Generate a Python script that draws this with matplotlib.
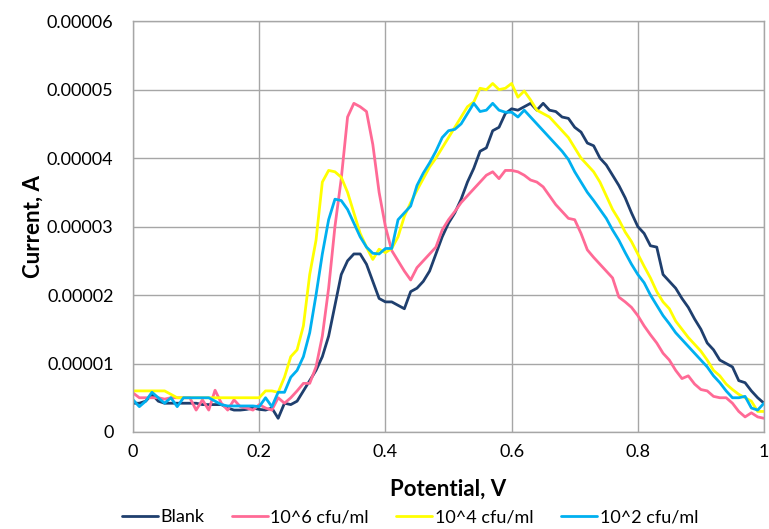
import matplotlib
matplotlib.use('Agg')
import matplotlib.pyplot as plt
import numpy as np

# Potential (V) and currents (units of 1e-5 A)
potential = [round(i * 0.01, 2) for i in range(101)]

blank = [0.42, 0.42, 0.45, 0.55, 0.45, 0.42, 0.42, 0.42, 0.42, 0.42,
         0.42, 0.40, 0.40, 0.40, 0.40, 0.35, 0.32, 0.32, 0.33, 0.35,
         0.33, 0.32, 0.35, 0.20, 0.42, 0.40, 0.45, 0.60, 0.75, 0.90,
         1.10, 1.40, 1.85, 2.30, 2.50, 2.60, 2.60, 2.45, 2.20, 1.95,
         1.90, 1.90, 1.85, 1.80, 2.05, 2.10, 2.20, 2.35, 2.60, 2.85,
         3.05, 3.20, 3.40, 3.65, 3.85, 4.10, 4.15, 4.40, 4.45, 4.65,
         4.72, 4.70, 4.75, 4.80, 4.70, 4.80, 4.70, 4.68, 4.60, 4.58,
         4.45, 4.38, 4.22, 4.18, 4.00, 3.90, 3.75, 3.60, 3.42, 3.20,
         3.00, 2.90, 2.72, 2.70, 2.30, 2.20, 2.10, 1.95, 1.82, 1.65,
         1.50, 1.30, 1.20, 1.05, 1.00, 0.95, 0.75, 0.72, 0.60, 0.50,
         0.42]

cfu_1e6 = [0.57, 0.50, 0.50, 0.50, 0.50, 0.48, 0.50, 0.50, 0.50, 0.50,
           0.32, 0.47, 0.32, 0.61, 0.42, 0.32, 0.47, 0.37, 0.35, 0.32,
           0.40, 0.35, 0.32, 0.50, 0.42, 0.50, 0.60, 0.71, 0.71, 0.95,
           1.40, 2.10, 3.00, 3.70, 4.60, 4.80, 4.75, 4.68, 4.20, 3.50,
           3.00, 2.65, 2.50, 2.35, 2.22, 2.40, 2.50, 2.60, 2.70, 2.95,
           3.10, 3.22, 3.35, 3.45, 3.55, 3.65, 3.75, 3.80, 3.70, 3.82,
           3.82, 3.80, 3.75, 3.68, 3.65, 3.58, 3.45, 3.32, 3.22, 3.12,
           3.10, 2.90, 2.66, 2.55, 2.45, 2.35, 2.25, 1.97, 1.90, 1.82,
           1.70, 1.55, 1.42, 1.30, 1.15, 1.05, 0.90, 0.78, 0.82, 0.70,
           0.62, 0.60, 0.52, 0.50, 0.50, 0.42, 0.30, 0.22, 0.28, 0.22,
           0.20]

cfu_1e4 = [0.60, 0.60, 0.60, 0.60, 0.60, 0.60, 0.55, 0.50, 0.50, 0.50,
           0.50, 0.50, 0.50, 0.50, 0.50, 0.50, 0.50, 0.50, 0.50, 0.50,
           0.50, 0.60, 0.60, 0.58, 0.80, 1.10, 1.20, 1.55, 2.30, 2.80,
           3.65, 3.82, 3.80, 3.72, 3.50, 3.20, 2.90, 2.70, 2.52, 2.67,
           2.62, 2.68, 2.85, 3.15, 3.35, 3.53, 3.70, 3.87, 4.00, 4.15,
           4.30, 4.45, 4.60, 4.75, 4.82, 5.02, 5.00, 5.09, 5.00, 5.02,
           5.09, 4.89, 4.98, 4.85, 4.70, 4.65, 4.60, 4.50, 4.40, 4.30,
           4.15, 4.00, 3.90, 3.80, 3.65, 3.45, 3.25, 3.10, 2.92, 2.78,
           2.60, 2.42, 2.25, 2.05, 1.90, 1.80, 1.62, 1.50, 1.38, 1.28,
           1.18, 1.05, 0.90, 0.82, 0.70, 0.62, 0.55, 0.50, 0.45, 0.30,
           0.30]

cfu_1e2 = [0.47, 0.37, 0.45, 0.58, 0.50, 0.42, 0.50, 0.37, 0.50, 0.50,
           0.50, 0.50, 0.50, 0.45, 0.40, 0.38, 0.38, 0.38, 0.38, 0.38,
           0.37, 0.50, 0.37, 0.58, 0.58, 0.80, 0.90, 1.10, 1.45, 2.00,
           2.60, 3.10, 3.40, 3.38, 3.25, 3.05, 2.85, 2.70, 2.61, 2.60,
           2.68, 2.68, 3.10, 3.20, 3.30, 3.60, 3.78, 3.93, 4.10, 4.30,
           4.40, 4.42, 4.50, 4.65, 4.80, 4.68, 4.70, 4.80, 4.70, 4.67,
           4.67, 4.60, 4.70, 4.60, 4.50, 4.40, 4.30, 4.20, 4.10, 3.98,
           3.80, 3.65, 3.50, 3.38, 3.25, 3.12, 2.95, 2.80, 2.62, 2.45,
           2.30, 2.18, 2.00, 1.85, 1.70, 1.58, 1.45, 1.35, 1.25, 1.15,
           1.05, 0.95, 0.82, 0.72, 0.60, 0.50, 0.50, 0.52, 0.35, 0.32,
           0.42]

series_names = ["Blank", "10^6 cfu/ml", "10^4 cfu/ml", "10^2 cfu/ml"]
series_colors = ["#1F3F6E", "#FF6A96", "#FFFF00", "#00B0F0"]

x_ticks = [0, 0.2, 0.4, 0.6, 0.8, 1]
x_tick_labels = ["0", "0.2", "0.4", "0.6", "0.8", "1"]
y_ticks = [0, 0.00001, 0.00002, 0.00003, 0.00004, 0.00005, 0.00006]
y_tick_labels = ["0", "0.00001", "0.00002", "0.00003", "0.00004", "0.00005", "0.00006"]

plt.rcParams['font.family'] = ['Lato', 'DejaVu Sans']

fig = plt.figure(figsize=(7.69, 5.29), dpi=100)
ax = fig.add_axes([0.173, 0.1834, 0.8205, 0.7766])

for vals, name, col in zip([blank, cfu_1e6, cfu_1e4, cfu_1e2], series_names, series_colors):
    ax.plot(potential, np.array(vals) * 1e-5, color=col, lw=2.0, label=name,
            solid_joinstyle='round', solid_capstyle='round')

ax.set_xlim(0, 1)
ax.set_ylim(0, 0.00006)
ax.set_xticks(x_ticks)
ax.set_xticklabels(x_tick_labels)
ax.set_yticks(y_ticks)
ax.set_yticklabels(y_tick_labels)
ax.grid(True, color='#A6A6A6', lw=1.0)
ax.set_axisbelow(True)
for s in ax.spines.values():
    s.set_color('#A6A6A6')
    s.set_linewidth(1.0)
ax.tick_params(axis='both', colors='#A6A6A6', labelcolor='black', labelsize=13, length=0)
ax.tick_params(axis='y', pad=14)
ax.tick_params(axis='x', pad=9)

ax.set_xlabel("Potential, V", fontsize=16, fontweight='bold', labelpad=13)
ax.set_ylabel("Current, A", fontsize=16, fontweight='bold', labelpad=2)

fig.legend(loc='center', bbox_to_anchor=(0.533, 0.022), ncol=4, frameon=False,
           fontsize=13, handlelength=2.0, handletextpad=0.15, columnspacing=1.5,
           borderpad=0, borderaxespad=0)

fig.savefig("out.png", dpi=100)
